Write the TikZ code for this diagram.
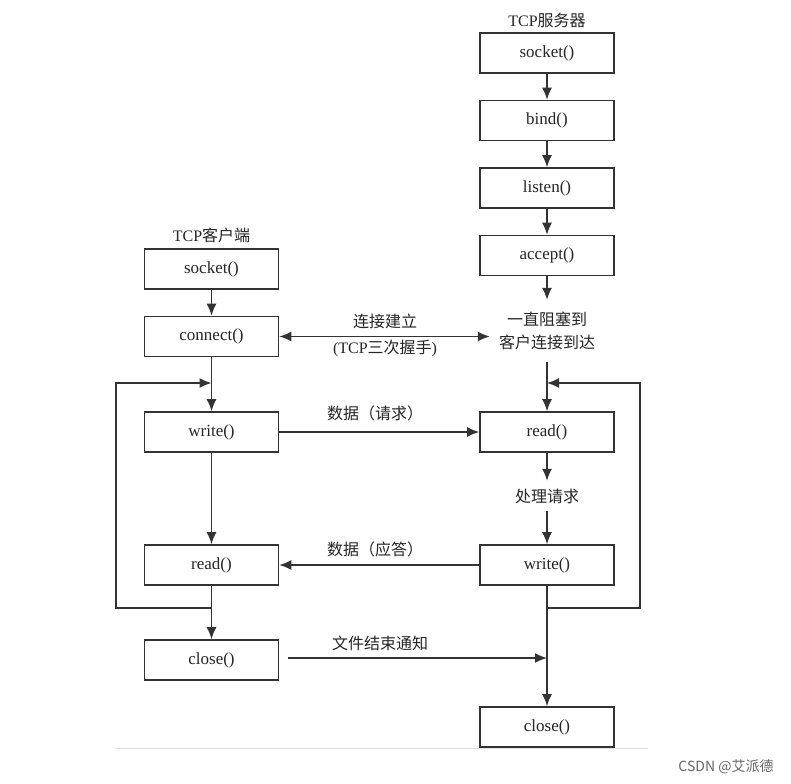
\documentclass[tikz,border=0pt]{standalone}
\usepackage{fontspec}
\setmainfont{Liberation Serif}
\newfontfamily\cjk{Noto Sans CJK SC}
\usetikzlibrary{arrows.meta}
\begin{document}
\begin{tikzpicture}[x=1pt,y=-1pt,
  box/.style={draw=black!80, line width=1.6pt, minimum width=134pt, minimum height=40pt, inner sep=0pt, text=black!85, font=\fontsize{17}{19}\selectfont},
  lbl/.style={text=black!85, font=\fontsize{16}{23}\selectfont, inner sep=0pt, align=center},
  conn/.style={draw=black!80, line width=1.5pt, -{Latex[length=12pt,width=10pt]}},
  dconn/.style={draw=black!80, line width=1.5pt, {Latex[length=12pt,width=10pt]}-{Latex[length=12pt,width=10pt]}},
]
\useasboundingbox[fill=white] (0,0) rectangle (791,783);

% client
\node[lbl] (ctitle) at (211.5,235) {TCP{\cjk 客户端}};
\node[box] (csocket)  at (211.5,269) {socket()};
\node[box] (cconnect) at (211.5,336.5) {connect()};
\node[box] (cwrite)   at (211.5,432) {write()};
\node[box] (cread)    at (211.5,565) {read()};
\node[box] (cclose)   at (211.5,660) {close()};

% server
\node[lbl] (stitle) at (547,20) {TCP{\cjk 服务器}};
\node[box] (ssocket) at (547,53) {socket()};
\node[box] (sbind)   at (547,120.5) {bind()};
\node[box] (slisten) at (547,188) {listen()};
\node[box] (saccept) at (547,255.5) {accept()};
\node[lbl, minimum height=62pt, inner xsep=9pt] (wait) at (547,331) {\cjk 一直阻塞到\\\cjk 客户连接到达};
\node[box] (sread)   at (547,432) {read()};
\node[lbl, minimum height=30pt] (proc) at (547,496) {\cjk 处理请求};
\node[box] (swrite)  at (547,565) {write()};
\node[box] (sclose)  at (547,727) {close()};

% vertical flow
\draw[conn] (csocket) -- (cconnect);
\draw[conn] (cconnect) -- (cwrite);
\draw[conn] (cwrite) -- (cread);
\draw[conn] (cread) -- (cclose);
\draw[conn] (ssocket) -- (sbind);
\draw[conn] (sbind) -- (slisten);
\draw[conn] (slisten) -- (saccept);
\draw[conn] (saccept) -- (wait);
\draw[conn] (wait) -- (sread);
\draw[conn] (sread) -- (proc);
\draw[conn] (proc) -- (swrite);
\draw[conn] (swrite) -- (sclose);

% loops
\coordinate (cl1) at (211.5,608);
\coordinate (cl2) at (116,608);
\coordinate (cl3) at (116,383);
\coordinate (cl4) at (211.5,383);
\draw[conn] (cl1) -- (cl2) -- (cl3) -- (cl4);
\coordinate (sl1) at (547,608);
\coordinate (sl2) at (640,608);
\coordinate (sl3) at (640,383);
\coordinate (sl4) at (547,383);
\draw[conn] (sl1) -- (sl2) -- (sl3) -- (sl4);

% horizontal messages
\draw[dconn] (cconnect.east) -- (cconnect.east -| wait.west);
\node[lbl] (l1) at (385,321) {\cjk 连接建立};
\node[lbl] (l2) at (385,348) {(TCP{\cjk 三次握手})};

\draw[conn] (cwrite) -- (sread);
\node[lbl] (l3) at (375,413) {\cjk 数据（请求）};

\draw[conn] (swrite) -- (cread);
\node[lbl] (l4) at (375,549) {\cjk 数据（应答）};

\coordinate (cfin) at (288,658);
\coordinate (sfin) at (547,658);
\draw[conn] (cfin) -- (sfin);
\node[lbl] (l5) at (380,643) {\cjk 文件结束通知};

% bottom rule and watermark
\coordinate (b1) at (115,748);
\coordinate (b2) at (648,748);
\draw[black!12, line width=1pt] (b1) -- (b2);
\node[text=black!60, font=\cjk\fontsize{14}{16}\selectfont, inner sep=0pt] (wm) at (726,767) {CSDN @艾派德};
\end{tikzpicture}
\end{document}
